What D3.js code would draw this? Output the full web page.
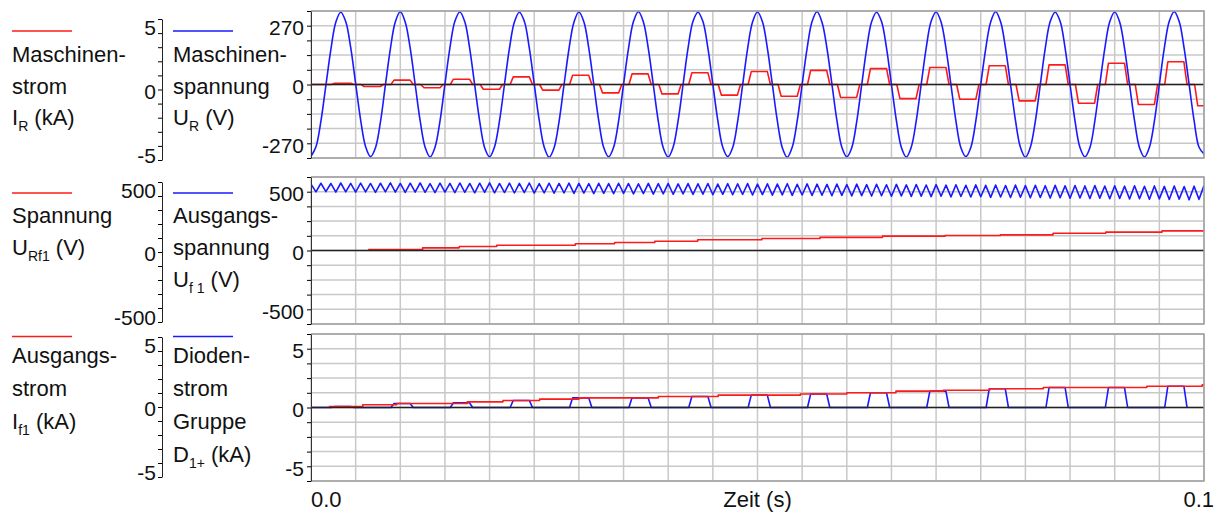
<!DOCTYPE html>
<html>
<head>
<meta charset="utf-8">
<script src="https://cdn.jsdelivr.net/npm/d3@7"></script>
<style>
  body { margin: 0; background: #fff; }
  svg text { font-family: "Liberation Sans", Arial, Helvetica, sans-serif; fill: #111; }
</style>
</head>
<body>
<svg id="chart" width="1227" height="515"></svg>
<script>
// ---------- time axis ----------
const timeRangeMs = [0, 100];
const timeTickLabels = ["0.0", "0.1"];
const timeTitle = "Zeit (s)";
const sampleStepMs = 100 / 180;          // common sampling step of the voltage traces

// ---------- panel 1: Maschinenspannung U_R (V), sampled every sampleStepMs ----------
const machineVoltage = [
  -330,-286,-168,-4,160,286,332,289,170,4,-162,-285,
  -331,-290,-172,-2,164,288,334,286,166,0,-166,-288,
  -333,-288,-168,2,168,290,333,288,164,-3,-168,-290,
  -332,-286,-166,0,166,287,332,290,168,2,-164,-287,
  -334,-290,-170,-2,163,286,333,288,166,0,-166,-289,
  -332,-288,-168,1,166,289,334,287,164,-2,-168,-290,
  -333,-287,-166,0,167,290,332,289,167,1,-165,-288,
  -331,-289,-169,-3,164,287,333,288,165,-1,-167,-290,
  -334,-288,-167,0,166,289,334,286,166,2,-164,-288,
  -332,-290,-170,-2,165,288,332,289,168,0,-166,-289,
  -333,-287,-166,2,167,290,333,287,165,-2,-168,-290,
  -331,-289,-168,0,164,287,334,288,166,1,-165,-288,
  -334,-288,-169,-1,166,289,332,290,167,0,-167,-289,
  -332,-290,-167,1,165,288,333,287,164,-2,-166,-290,
  -333,-288,-168,0,167,290,334,289,166,1,-165,-288,
  -319
];

// Maschinenstrom I_R (kA): conduction blocks [startMs, endMs, kA]
const machineCurrentPulses = [
  [2.3, 4.8, 0.11], [5.6, 8.1, -0.17], [8.95, 11.45, 0.37], [12.3, 14.8, -0.28],
  [15.6, 18.1, 0.45], [18.95, 21.45, -0.40], [22.3, 24.8, 0.65], [25.6, 28.1, -0.48],
  [28.95, 31.45, 0.79], [32.3, 34.8, -0.71], [35.6, 38.1, 0.90], [38.95, 41.45, -0.80],
  [42.3, 44.8, 1.00], [45.6, 48.1, -0.90], [48.95, 51.45, 1.10], [52.3, 54.8, -1.00],
  [55.6, 58.1, 1.20], [58.95, 61.45, -1.10], [62.3, 64.8, 1.35], [65.6, 68.1, -1.20],
  [68.95, 71.45, 1.45], [72.3, 74.8, -1.25], [75.6, 78.1, 1.59], [78.95, 81.45, -1.39],
  [82.3, 84.8, 1.67], [85.6, 88.1, -1.59], [88.95, 91.45, 1.81], [92.3, 94.8, -1.70],
  [95.6, 98.1, 1.93], [98.95, 101.45, -1.81]
];

// ---------- panel 2: Ausgangsspannung U_f1 (V), sampled every sampleStepMs ----------
const outputVoltageInitial = 0;
const outputVoltage = [
  565,498,572,500,570,496,574,499,571,497,
  573,498,570,495,572,499,575,497,570,494,
  572,496,574,495,569,493,573,497,571,492,
  574,494,570,491,572,495,575,490,570,493,
  573,489,571,492,574,488,569,490,572,487,
  570,489,573,485,571,488,568,484,572,486,
  569,483,572,485,570,481,567,484,571,480,
  568,482,570,478,566,481,569,477,567,479,
  570,475,565,478,568,474,566,476,569,472,
  564,475,567,471,565,473,568,469,563,472,
  566,468,564,470,562,466,565,469,561,465,
  564,467,560,463,563,466,559,461,562,464,
  558,460,561,462,557,458,560,461,556,456,
  559,459,555,455,558,457,554,452,557,455,
  553,451,556,453,552,448,555,451,551,446,
  554,449,550,445,553,447,549,442,552,445,
  548,440,551,443,547,438,550,441,546,436,
  549,439,545,434,548,437,544,431,547,435,
  552
];

// Spannung U_Rf1 (V): staircase [fromMs, V]
const rf1VoltageSteps = [
  [6.4, 8.5], [12.5, 22.7], [16.6, 34], [20.8, 45], [29.6, 57], [34.0, 68],
  [38.5, 79], [43.3, 91], [50.5, 102], [57.0, 112], [64.0, 122], [71.0, 128],
  [77.2, 133], [83.1, 147], [89.0, 156], [95.3, 167], [100, 167]
];

// ---------- panel 3: Ausgangsstrom I_f1 (kA): staircase [fromMs, kA] ----------
const outputCurrentSteps = [
  [2.0, 0.085], [5.8, 0.23], [9.6, 0.34], [17.5, 0.48], [21.5, 0.60], [25.6, 0.71],
  [30.0, 0.82], [38.9, 0.94], [45.6, 1.05], [54.8, 1.15], [60.0, 1.25], [65.5, 1.39],
  [70.8, 1.47], [76.0, 1.59], [82.0, 1.70], [93.6, 1.81], [99.8, 1.93], [100, 1.93]
];

// Diodenstrom Gruppe D1+ (kA): conduction blocks [startMs, endMs, kA]
const diodeCurrentPulses = [
  [2.3, 4.8, 0.085], [8.95, 11.45, 0.34], [15.6, 18.1, 0.40], [22.3, 24.8, 0.60],
  [28.95, 31.45, 0.82], [35.6, 38.1, 0.82], [42.3, 44.8, 0.94], [48.95, 51.45, 1.05],
  [55.6, 58.1, 1.15], [62.3, 64.8, 1.25], [68.95, 71.45, 1.39], [75.6, 78.1, 1.59],
  [82.3, 84.8, 1.70], [88.95, 91.45, 1.70], [95.6, 98.1, 1.81]
];
const pulseEdgeMs = 0.35;

// ---------- axis labels ----------
const panel1Labels = { left: [["Maschinen-"], ["strom"], ["I", "R", " (kA)"]],
                       right: [["Maschinen-"], ["spannung"], ["U", "R", " (V)"]] };
const panel2Labels = { left: [["Spannung"], ["U", "Rf1", " (V)"]],
                       right: [["Ausgangs-"], ["spannung"], ["U", "f 1", " (V)"]] };
const panel3Labels = { left: [["Ausgangs-"], ["strom"], ["I", "f1", " (kA)"]],
                       right: [["Dioden-"], ["strom"], ["Gruppe"], ["D", "1+", " (kA)"]] };
const panel1Ticks = { outer: [-5, 0, 5], inner: [-270, 0, 270] };
const panel2Ticks = { outer: [-500, 0, 500], inner: [-500, 0, 500] };
const panel3Ticks = { outer: [-5, 0, 5], inner: [-5, 0, 5] };

// ---------- layout ----------
const RED = "#ff1a1a", BLUE = "#1a1aff";
const plotLeft = 311, plotRight = 1204;
const svg = d3.select("#chart");
const x = d3.scaleLinear().domain(timeRangeMs).range([plotLeft, plotRight]);
const tickText = d => (d < 0 ? "-" : "") + Math.abs(Math.round(d));

const panels = [
  { top: 11, bottom: 158, innerMax: 337.5, outerTop: 19, outerBottom: 160, outerMax: 5.5,
    ticks: panel1Ticks, labels: panel1Labels, legendY: 31, textY: 62, textDy: 31.5 },
  { top: 177, bottom: 324, innerMax: 625, outerTop: 182, outerBottom: 322, outerMax: 550,
    ticks: panel2Ticks, labels: panel2Labels, legendY: 193, textY: 223, textDy: 32 },
  { top: 334, bottom: 481, innerMax: 6.25, outerTop: 337, outerBottom: 477, outerMax: 5.5,
    ticks: panel3Ticks, labels: panel3Labels, legendY: 336.5, textY: 363, textDy: 33 }
];
panels.forEach(p => {
  p.y = d3.scaleLinear().domain([-p.innerMax, p.innerMax]).range([p.bottom, p.top]);
  p.yOuter = d3.scaleLinear().domain([-p.outerMax, p.outerMax]).range([p.outerBottom, p.outerTop]);
});
// current traces in panel 1 share the kA range of panel 3
const currentScale1 = d3.scaleLinear().domain([-6.25, 6.25]).range([panels[0].bottom, panels[0].top]);

const defs = svg.append("defs");
panels.forEach((p, i) => {
  defs.append("clipPath").attr("id", "clip" + i).append("rect")
    .attr("x", plotLeft).attr("y", p.top).attr("width", plotRight - plotLeft).attr("height", p.bottom - p.top);
});

const sampleTimes = d3.range(machineVoltage.length).map(k => k * sampleStepMs);

function pulsePoints(pulses) {
  const pts = [[0, 0]];
  pulses.forEach(([s, e, v]) => {
    pts.push([s, 0], [s + pulseEdgeMs, v], [e - pulseEdgeMs, v], [e, 0]);
  });
  return pts;
}
function stairPoints(steps) {
  const pts = [];
  steps.forEach(([t, v], i) => {
    if (i > 0) pts.push([t, steps[i - 1][1]]);
    pts.push([t, v]);
  });
  return pts;
}

function drawPanel(p, i, series) {
  const g = svg.append("g");
  // grid
  const hVals = d3.range(11).map(k => -p.innerMax + k * p.innerMax / 5);
  const vVals = d3.range(0, 100.01, 5);
  g.append("g").selectAll("line.h").data(hVals).join("line")
    .attr("x1", plotLeft).attr("x2", plotRight)
    .attr("y1", d => p.y(d)).attr("y2", d => p.y(d))
    .attr("stroke", "#c8c8c8").attr("stroke-width", 1.5);
  g.append("g").selectAll("line.v").data(vVals).join("line")
    .attr("x1", d => x(d)).attr("x2", d => x(d))
    .attr("y1", p.top).attr("y2", p.bottom)
    .attr("stroke", "#c8c8c8").attr("stroke-width", 1.5);
  // traces
  const clip = g.append("g").attr("clip-path", `url(#clip${i})`);
  series.forEach(s => {
    const line = d3.line().x(d => x(d[0])).y(d => s.scale(d[1])).curve(s.curve || d3.curveLinear);
    clip.append("path").datum(s.points).attr("d", line)
      .attr("fill", "none").attr("stroke", s.color).attr("stroke-width", 1.6)
      .attr("stroke-linejoin", "round");
  });
  // zero line
  g.append("line").attr("x1", plotLeft).attr("x2", plotRight)
    .attr("y1", p.y(0)).attr("y2", p.y(0)).attr("stroke", "#222").attr("stroke-width", 1.5);
  // frame
  g.append("path")
    .attr("d", `M${plotLeft},${p.top}H${plotRight}V${p.bottom}H${plotLeft}`)
    .attr("fill", "none").attr("stroke", "#a0a0a0").attr("stroke-width", 1.5);

  // inner value axis
  const innerAxis = d3.axisLeft(p.y).tickValues(hVals).tickSize(4).tickSizeOuter(0)
    .tickFormat(d => p.ticks.inner.some(v => Math.abs(v - d) < 1e-6) ? tickText(d) : "");
  const ia = g.append("g").attr("transform", `translate(${plotLeft},0)`).call(innerAxis);
  ia.selectAll("text").attr("font-size", 21).attr("x", -7).attr("dy", "0.42em");
  ia.select(".domain").attr("stroke", "#333");

  // outer value axis
  const minor = d3.range(11).map(k => -p.outerMax + k * p.outerMax / 5);
  const oa = g.append("g").attr("transform", "translate(162,0)")
    .call(d3.axisLeft(p.yOuter).tickValues(minor).tickSize(4).tickSizeOuter(0).tickFormat(""));
  oa.select(".domain").attr("stroke", "#222");
  const ol = g.append("g").attr("transform", "translate(162,0)")
    .call(d3.axisLeft(p.yOuter).tickValues(p.ticks.outer).tickSize(0).tickPadding(6).tickFormat(tickText));
  ol.select(".domain").remove();
  ol.selectAll("text").attr("font-size", 21).attr("dy", "0.42em");

  // legend swatches and captions
  g.append("line").attr("x1", 12).attr("x2", 72).attr("y1", p.legendY).attr("y2", p.legendY)
    .attr("stroke", RED).attr("stroke-width", 1.5);
  g.append("line").attr("x1", 173).attr("x2", 233).attr("y1", p.legendY).attr("y2", p.legendY)
    .attr("stroke", BLUE).attr("stroke-width", 1.5);
  [[p.labels.left, 12], [p.labels.right, 173]].forEach(([rows, tx]) => {
    rows.forEach((row, r) => {
      const t = g.append("text").attr("x", tx).attr("y", p.textY + r * p.textDy).attr("font-size", 22);
      t.append("tspan").text(row[0]);
      if (row.length > 1) {
        t.append("tspan").attr("font-size", 14).attr("dy", 6).text(row[1]);
        t.append("tspan").attr("dy", -6).text(row[2]);
      }
    });
  });
}

// panel 1
drawPanel(panels[0], 0, [
  { points: sampleTimes.map((t, k) => [t, machineVoltage[k]]), scale: panels[0].y, color: BLUE, curve: d3.curveCatmullRom },
  { points: pulsePoints(machineCurrentPulses), scale: currentScale1, color: RED }
]);
// panel 2
const uf1Points = [[0, outputVoltageInitial]].concat(outputVoltage.map((v, k) => [k * sampleStepMs, v]));
drawPanel(panels[1], 1, [
  { points: uf1Points, scale: panels[1].y, color: BLUE },
  { points: stairPoints(rf1VoltageSteps), scale: panels[1].y, color: RED }
]);
// panel 3
drawPanel(panels[2], 2, [
  { points: pulsePoints(diodeCurrentPulses), scale: panels[2].y, color: BLUE },
  { points: stairPoints(outputCurrentSteps), scale: panels[2].y, color: RED }
]);

// time axis labels
svg.append("text").attr("x", x(timeRangeMs[0])).attr("y", 507).attr("font-size", 22)
  .attr("text-anchor", "start").text(timeTickLabels[0]);
svg.append("text").attr("x", x(timeRangeMs[1]) + 10).attr("y", 507).attr("font-size", 22)
  .attr("text-anchor", "end").text(timeTickLabels[1]);
svg.append("text").attr("x", (plotLeft + plotRight) / 2).attr("y", 507).attr("font-size", 22)
  .attr("text-anchor", "middle").text(timeTitle);
</script>
</body>
</html>
